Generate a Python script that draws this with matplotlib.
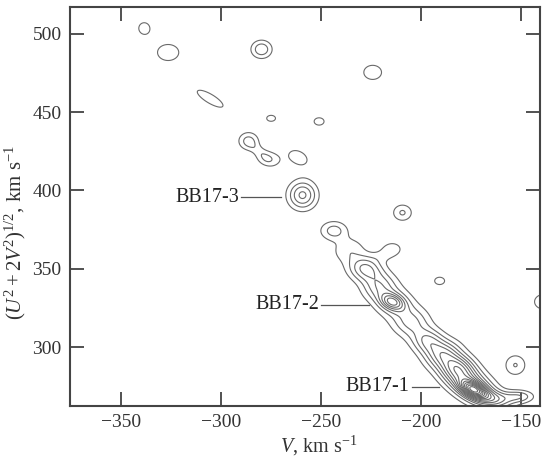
import numpy as np
import matplotlib
matplotlib.use("Agg")
import matplotlib.pyplot as plt

plt.rcParams['font.family'] = ['Liberation Serif', 'DejaVu Serif']
plt.rcParams['mathtext.fontset'] = 'custom'
plt.rcParams['mathtext.rm'] = 'Liberation Serif'
plt.rcParams['mathtext.it'] = 'Liberation Serif:italic'

# density components: centre (V, Y), peak, widths, tilt
# isolated clumps
blob_v = [-338.5, -326.5, -279.8, -224.2, -305.5, -275.0, -251.0,
          -286.3, -276.5, -281.5, -261.5, -259.3, -209.3,
          -190.7, -152.8, -138.5]
blob_y = [503.5, 488.0, 490.0, 475.3, 458.5, 446.0, 444.0,
          431.5, 420.0, 425.5, 421.0, 397.0, 385.8,
          342.3, 288.6, 329.0]
blob_amp = [1.3, 1.3, 2.84, 1.3, 1.3, 1.3, 1.3,
            2.4, 2.03, 1.0, 1.3, 4.25, 2.14,
            1.3, 2.05, 1.3]
blob_sa = [3.6, 7.3, 3.67, 6.1, 11.0, 3.0, 3.4,
           3.6, 4.2, 4.5, 7.0, 4.9, 3.56,
           3.4, 3.9, 6.5]
blob_sb = [4.7, 7.0, 4.05, 6.2, 3.6, 2.6, 3.2,
           4.0, 3.4, 2.2, 5.0, 6.2, 3.9,
           3.2, 4.9, 6.5]
blob_ang = [0, 0, 0, 0, -38.8, 0, 0,
            0, -30, -50, -45, 0, 0,
            0, 0, 0]

# the long stream from below BB17-3 down to BB17-1
ridge_v = [-243.6, -236.5, -227.6, -214.5, -219.5, -221.0, -214.0, -214.4,
           -205.0, -196.2, -189.0, -182.0, -176.0, -173.6, -163.0, -151.0]
ridge_y = [374.3, 362.5, 349.8, 362.5, 358.0, 339.0, 328.7, 329.0,
           316.0, 303.6, 296.0, 288.0, 277.0, 272.8, 267.0, 268.5]
ridge_amp = [2.5, 1.6, 4.4, 1.6, 0.7, 2.6, 3.0, 4.6,
             2.8, 4.2, 3.0, 4.5, 6.0, 9.0, 3.0, 2.8]
ridge_sa = [4.8, 5.0, 6.5, 4.0, 4.0, 5.0, 8.0, 4.5,
            6.0, 6.5, 5.0, 6.5, 12.0, 5.0, 6.0, 5.0]
ridge_sb = [4.3, 6.0, 5.5, 3.6, 2.8, 6.0, 6.5, 3.2,
            6.5, 5.5, 6.5, 5.5, 6.0, 3.0, 3.5, 2.8]
ridge_ang = [0, -57, -40, 10, 10, -57, -50, -35,
             -52, -50, -50, -50, -45, -35, -10, 0]

levels = np.arange(1, 20)

labels = ["BB17-3", "BB17-2", "BB17-1"]
label_v = [-291.2, -251.0, -205.8]
label_y = [395.7, 327.0, 274.9]
label_line_end = [-270.2, -226.0, -191.2]

v = np.linspace(-376, -140, 945)
y = np.linspace(262, 518, 1025)
V, Y = np.meshgrid(v, y)
Z = np.zeros_like(V)
comps = zip(blob_v + ridge_v, blob_y + ridge_y, blob_amp + ridge_amp,
            blob_sa + ridge_sa, blob_sb + ridge_sb, blob_ang + ridge_ang)
for cv, cy, a, sa, sb, ang in comps:
    t = np.deg2rad(ang)
    dx = V - cv
    dy = Y - cy
    u = dx * np.cos(t) + dy * np.sin(t)
    w = -dx * np.sin(t) + dy * np.cos(t)
    Z += a * np.exp(-0.5 * ((u / sa) ** 2 + (w / sb) ** 2))

fig = plt.figure(figsize=(5.45, 4.61), dpi=100)
ax = fig.add_axes([70 / 545, 55 / 461, 470 / 545, 399 / 461])

ax.contour(V, Y, Z, levels=levels, colors='#6a6a6a', linewidths=0.8)

for name, lv, ly, le in zip(labels, label_v, label_y, label_line_end):
    ax.text(lv, ly, name, ha='right', va='center', fontsize=14.5, color='#222222')
    ax.plot([lv + 1.2, le], [ly, ly], color='#555555', linewidth=0.9)

ax.set_xlim(-375.6, -140.5)
ax.set_ylim(262.5, 517)
ax.set_xticks([-350, -300, -250, -200, -150])
ax.set_yticks([300, 350, 400, 450, 500])
ax.set_xticklabels(['\u2212350', '\u2212300', '\u2212250', '\u2212200', '\u2212150'])
ax.tick_params(direction='in', length=10, width=1.2, top=True, right=True,
               labelsize=14, colors='#333333', pad=6)
for sp in ax.spines.values():
    sp.set_linewidth(1.5)
    sp.set_color('#444444')

ax.text(0.53, -0.1, r'$V$, km s$^{-1}$', transform=ax.transAxes,
        ha='center', va='center', fontsize=14.5, color='#333333')
ax.text(-0.117, 0.436, r'$(U^2 + 2V^2)^{1/2}$, km s$^{-1}$', transform=ax.transAxes,
        ha='center', va='center', rotation=90, fontsize=15, color='#333333')

fig.savefig("out.png", dpi=100)
